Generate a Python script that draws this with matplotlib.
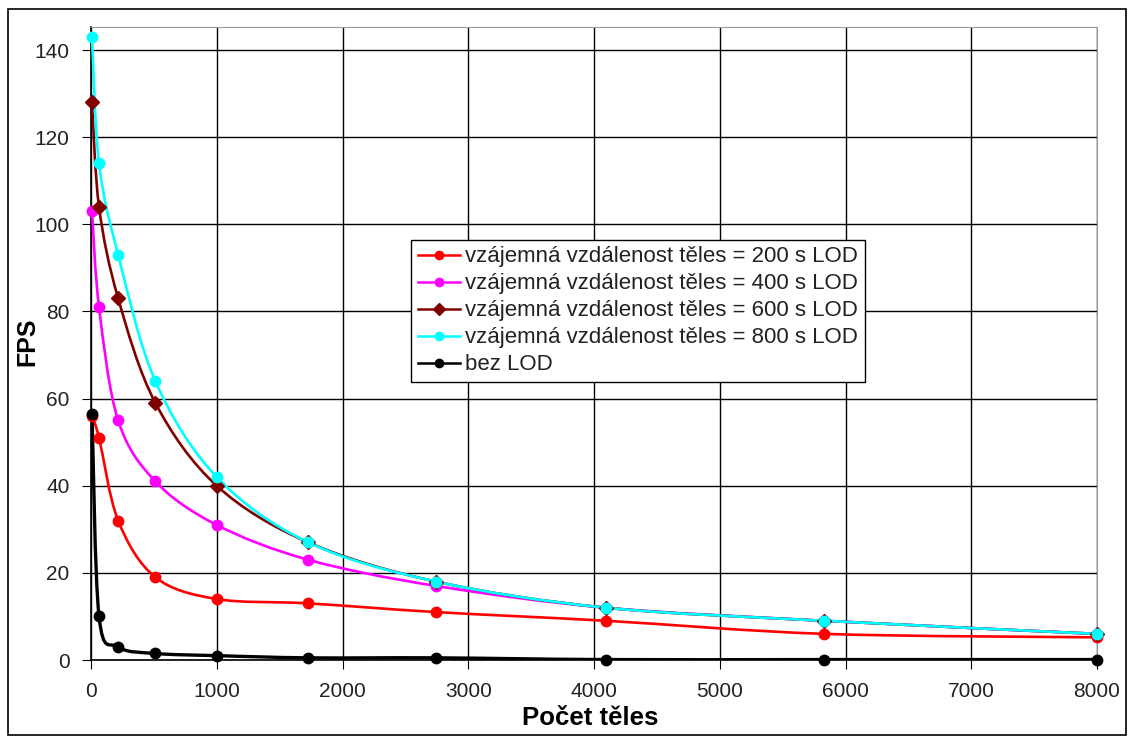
import matplotlib
matplotlib.use("Agg")
import matplotlib.pyplot as plt
from matplotlib.path import Path
from matplotlib.patches import PathPatch, Rectangle
from matplotlib.lines import Line2D
import numpy as np

plt.rcParams['font.family'] = ['Liberation Sans', 'DejaVu Sans']

# pocet teles (krychle 2^3 .. 20^3)
teles = [8, 64, 216, 512, 1000, 1728, 2744, 4096, 5832, 8000]

fps_200 = [56, 51, 32, 19, 14, 13, 11, 9, 6, 5.2]
fps_400 = [103, 81, 55, 41, 31, 23, 17, 12, 9, 6]
fps_600 = [128, 104, 83, 59, 40, 27, 18, 12, 9, 6]
fps_800 = [143, 114, 93, 64, 42, 27, 18, 12, 9, 6]
fps_bez = [56.5, 10, 3, 1.5, 1, 0.5, 0.5, 0.1, 0.1, 0.1]

labels = ["vzájemná vzdálenost těles = 200 s LOD",
          "vzájemná vzdálenost těles = 400 s LOD",
          "vzájemná vzdálenost těles = 600 s LOD",
          "vzájemná vzdálenost těles = 800 s LOD",
          "bez LOD"]
colors = ["#ff0000", "#ff00ff", "#800000", "#00ffff", "#000000"]
markers = ["o", "o", "D", "o", "o"]
xticks = [0, 1000, 2000, 3000, 4000, 5000, 6000, 7000, 8000]
yticks = [0, 20, 40, 60, 80, 100, 120, 140]


#smooth line like excel (catmull-rom as bezier segments)
def smooth_path(x, y):
    p = np.column_stack([x, y]).astype(float)
    n = len(p)
    verts = [p[0]]
    codes = [Path.MOVETO]
    for i in range(n - 1):
        p0 = p[i - 1] if i > 0 else p[i]
        p3 = p[i + 2] if i + 2 < n else p[i + 1]
        c1 = p[i] + (p[i + 1] - p0) / 6
        c2 = p[i + 1] - (p3 - p[i]) / 6
        verts += [c1, c2, p[i + 1]]
        codes += [Path.CURVE4] * 3
    return Path(verts, codes)


fig = plt.figure(figsize=(11.31, 7.4), dpi=100)
ax = fig.add_axes([91 / 1131, 80 / 740, 1006 / 1131, 633 / 740])

series = [fps_200, fps_400, fps_600, fps_800, fps_bez]
for vals, c, m, lab in zip(series, colors, markers, labels):
    lw = 2.4 if c == "#000000" else 1.9
    ax.add_patch(PathPatch(smooth_path(teles, vals), facecolor='none', edgecolor=c, lw=lw, zorder=3))
    ms = 7 if m == "D" else 7.5
    ax.plot(teles, vals, linestyle='None', color=c, marker=m, markersize=ms, zorder=4, clip_on=False)

# legend handles with line
leg_handles = [Line2D([], [], color=c, marker=m, markersize=6, lw=1.8) for c, m in zip(colors, markers)]
leg = ax.legend(leg_handles, labels, loc='upper left', bbox_to_anchor=(0.318, 0.664), frameon=True,
                fancybox=False, edgecolor='black', fontsize=16, handlelength=1.9, handletextpad=0.25,
                labelspacing=0.27, borderpad=0.3, borderaxespad=0, framealpha=1)
leg.get_frame().set_linewidth(1.0)
for t in leg.get_texts():
    t.set_color('#222222')

ax.set_xlim(0, 8000)
ax.set_ylim(0, 145.3)
ax.set_xticks(xticks)
ax.set_yticks(yticks)
ax.tick_params(labelsize=15, length=6.5, direction='out', color='black', labelcolor='#222222', pad=9)
ax.grid(True, color='black', lw=1.0)
ax.set_axisbelow(True)
for s in ['top', 'right']:
    ax.spines[s].set_color('#999999')
for s in ['left', 'bottom']:
    ax.spines[s].set_color('black')
    ax.spines[s].set_linewidth(1.2)

ax.set_xlabel("Počet těles", fontsize=18.5, fontweight='bold')
ax.set_ylabel("FPS", fontsize=18, fontweight='bold')
ax.xaxis.set_label_coords((590 - 91) / 1006, -0.0727)
ax.yaxis.set_label_coords(-0.0518, (660 - 342) / 633)

fig.patches.append(Rectangle((8 / 1131, 5 / 740), 1118 / 1131, 726 / 740, transform=fig.transFigure,
                             fill=False, edgecolor='black', lw=1.2))

plt.savefig("out.png", dpi=100)
